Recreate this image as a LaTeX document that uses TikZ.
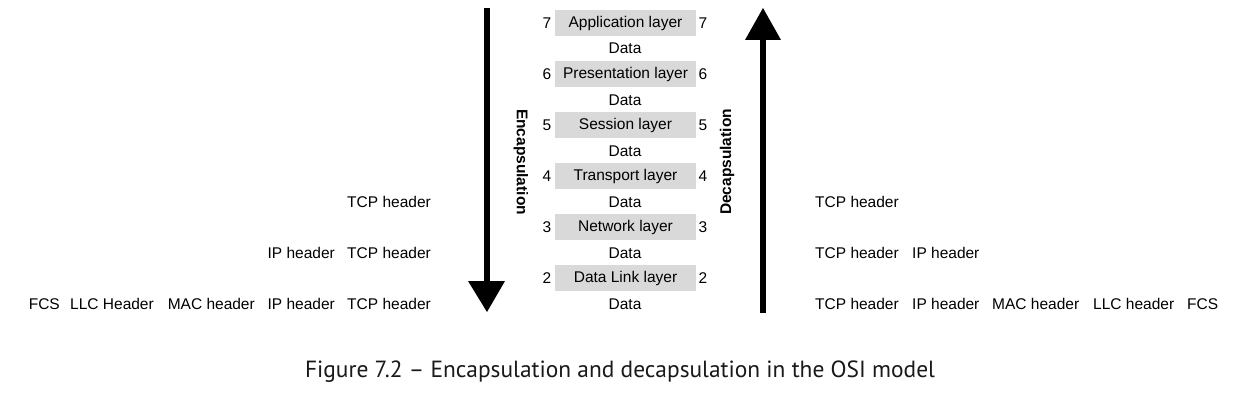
\documentclass[tikz,border=0pt]{standalone}
\usepackage{fontspec}
\setmainfont{Liberation Sans}
\newfontfamily\capfont{PT Sans}
\definecolor{layergray}{HTML}{D9D9D9}
\begin{document}
\begin{tikzpicture}[x=1pt,y=-1pt,
  every node/.style={font=\fontsize{15.5}{18}\selectfont, inner sep=0pt},
  layer/.style={fill=layergray, minimum width=141pt, minimum height=26pt},
  num/.style={},
  data/.style={},
  hdr/.style={},
  bigarrow/.style={line width=5.5pt},
  vlabel/.style={font=\fontsize{15.5}{18}\selectfont\bfseries}]
\useasboundingbox (0,0) rectangle (1239,414);
\fill[white] (0,0) rectangle (1239,414);

% layers
\foreach \n/\name/\y in {7/Application layer/23, 6/Presentation layer/74, 5/Session layer/125, 4/Transport layer/176, 3/Network layer/227, 2/Data Link layer/278}{
  \node[layer] (L\n) at (625.5,\y) {\name};
  \node[num] (nl\n) at (547,\y) {\n};
  \node[num] (nr\n) at (703,\y) {\n};
}
% data labels
\foreach \i/\y in {1/48, 2/100, 3/151, 4/202, 5/253, 6/304}{
  \node[data] (D\i) at (625,\y) {Data};
}

% encapsulation arrow
\coordinate (ea) at (487,8);
\coordinate (eb) at (487,282);
\coordinate (etip) at (487,312);
\draw[bigarrow] (ea) -- (eb);
\fill (468,281) -- (505,281) -- (etip) -- cycle;
\node[vlabel, rotate=-90] (enc) at (521,162) {Encapsulation};

% decapsulation arrow
\coordinate (da) at (763,313);
\coordinate (db) at (763,38);
\coordinate (dtip) at (763,8);
\draw[bigarrow] (da) -- (db);
\fill (745,40) -- (781,40) -- (dtip) -- cycle;
\node[vlabel, rotate=90] (dec) at (727,162) {Decapsulation};

% left headers
\node[hdr, anchor=east] (lt1) at (431,202) {TCP header};
\node[hdr, anchor=east] (lt2) at (431,253) {TCP header};
\node[hdr, anchor=east] (li2) at (335,253) {IP header};
\node[hdr, anchor=east] (lt3) at (431,304) {TCP header};
\node[hdr, anchor=east] (li3) at (335,304) {IP header};
\node[hdr, anchor=east] (lm3) at (255,304) {MAC header};
\node[hdr, anchor=east] (ll3) at (154,304) {LLC Header};
\node[hdr, anchor=east] (lf3) at (60,304) {FCS};

% right headers
\node[hdr, anchor=west] (rt1) at (815,202) {TCP header};
\node[hdr, anchor=west] (rt2) at (815,253) {TCP header};
\node[hdr, anchor=west] (ri2) at (912,253) {IP header};
\node[hdr, anchor=west] (rt3) at (815,304) {TCP header};
\node[hdr, anchor=west] (ri3) at (912,304) {IP header};
\node[hdr, anchor=west] (rm3) at (992,304) {MAC header};
\node[hdr, anchor=west] (rl3) at (1093,304) {LLC header};
\node[hdr, anchor=west] (rf3) at (1187,304) {FCS};

% caption
\node[font=\capfont\fontsize{22}{26}\selectfont, text=black!90] (cap) at (620,372) {\resizebox{630pt}{!}{Figure 7.2 – Encapsulation and decapsulation in the OSI model}};
\end{tikzpicture}
\end{document}
